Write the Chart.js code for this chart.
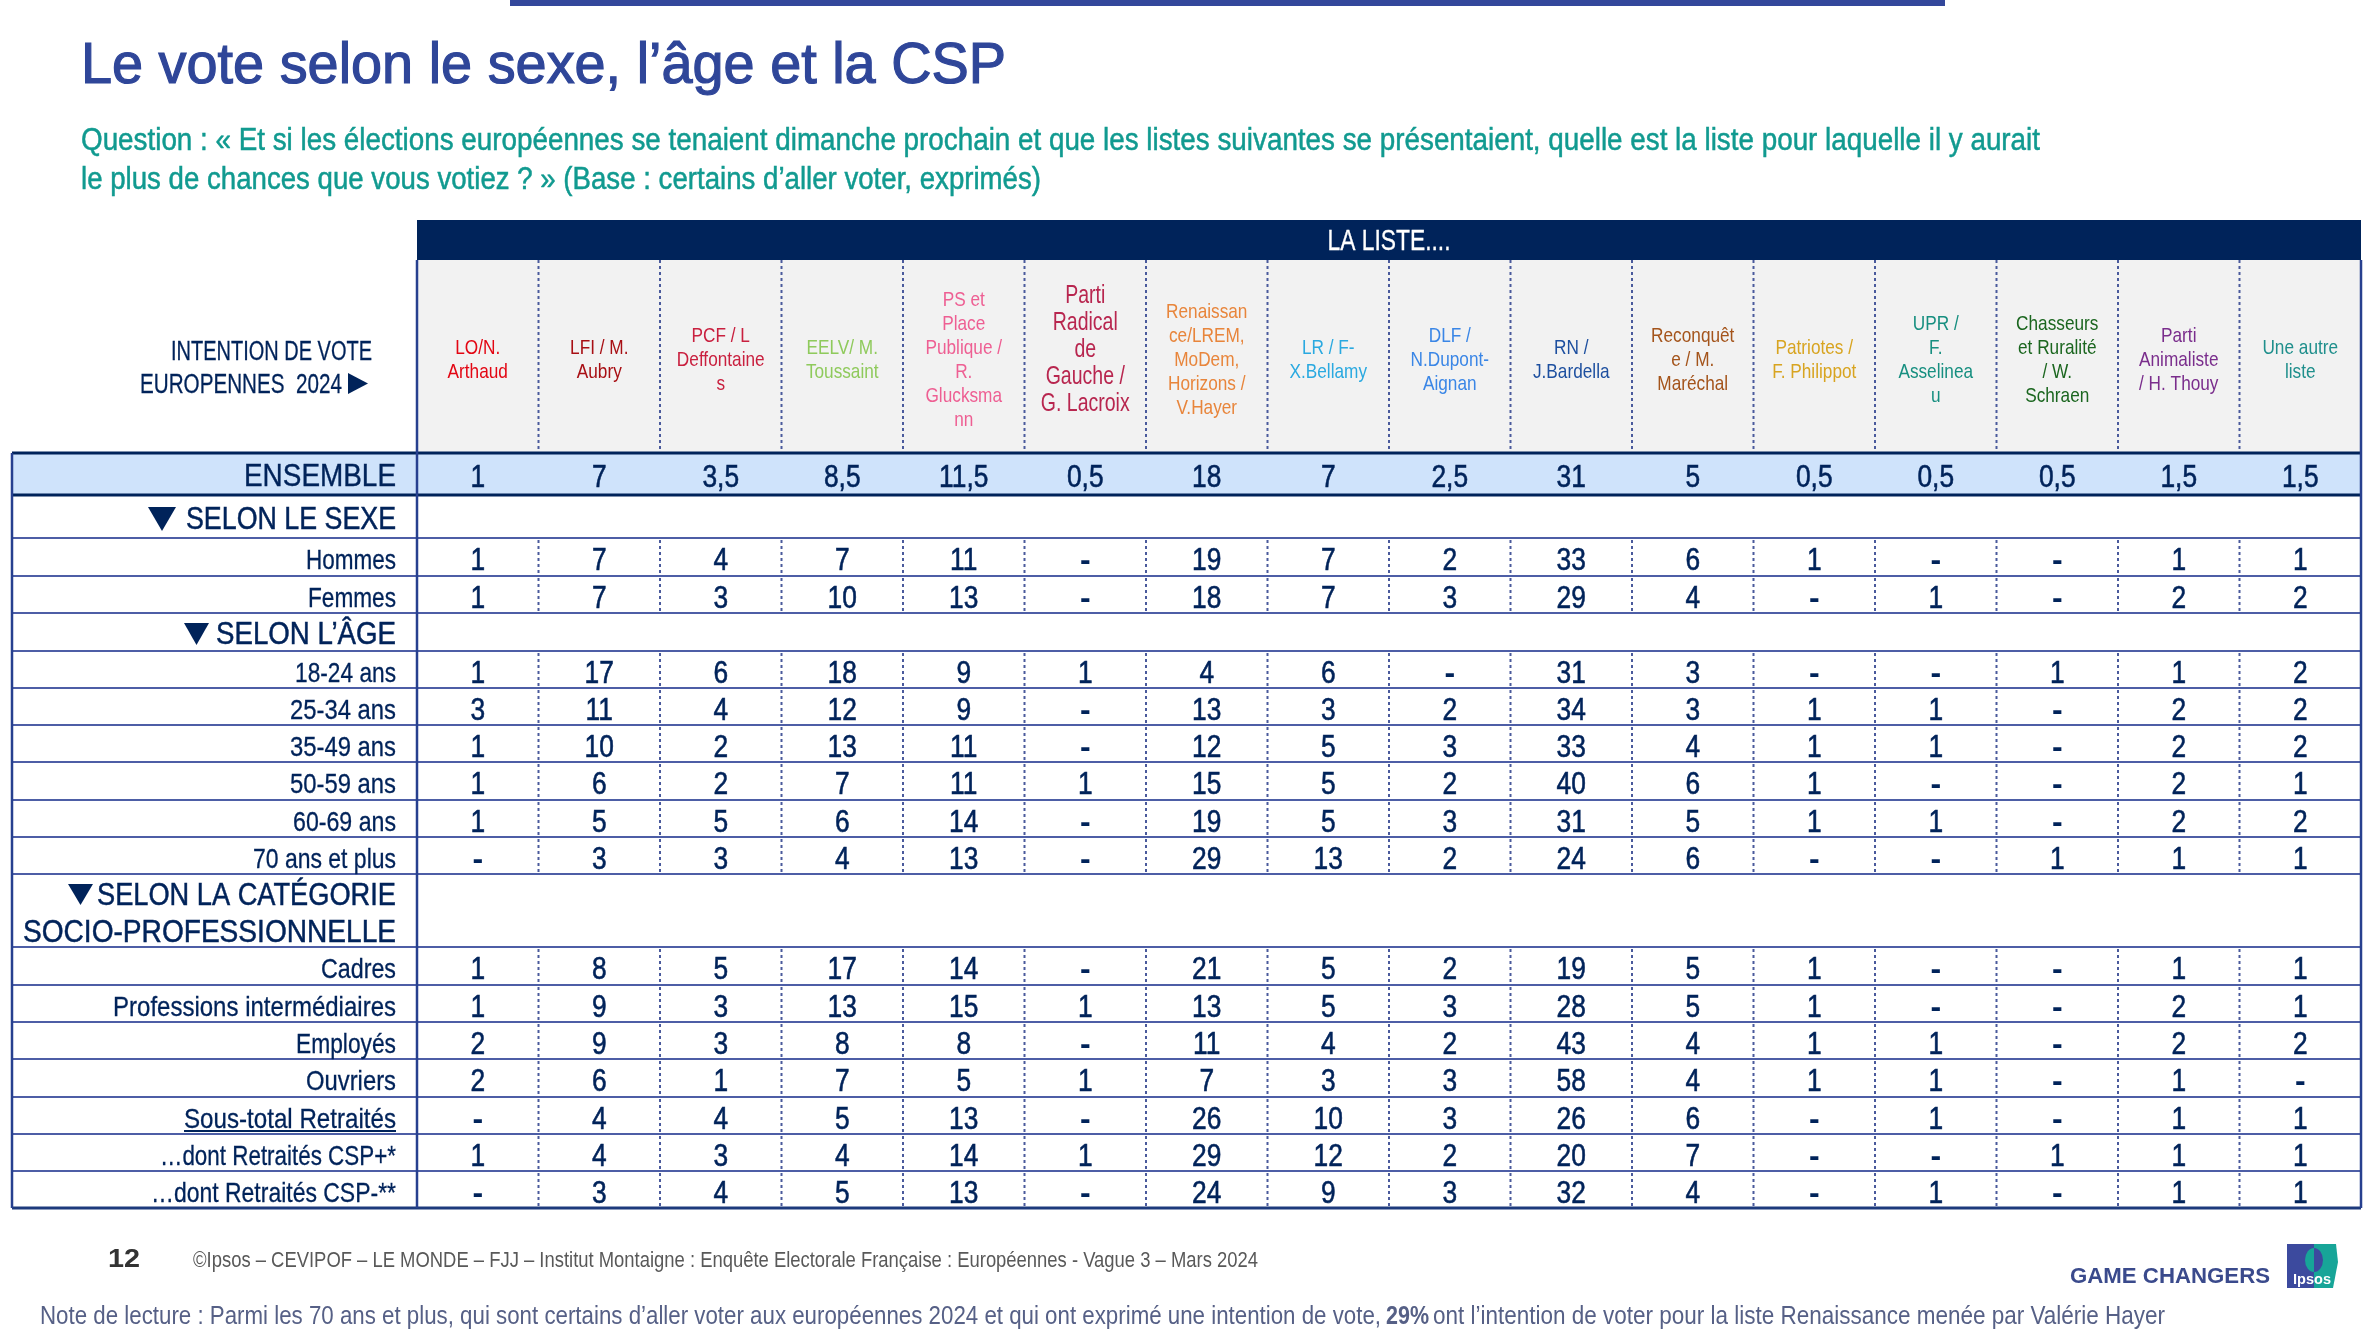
<!DOCTYPE html>
<html lang="fr">
<head>
<meta charset="utf-8">
<title>Le vote selon le sexe, l'âge et la CSP</title>
<script src="https://cdn.jsdelivr.net/npm/chart.js@4"></script>
<style>
  html, body { margin: 0; padding: 0; background: #fff; }
  canvas { display: block; }
</style>
</head>
<body>
<canvas id="voteTable" width="2380" height="1339"></canvas>
<script>
const lists = [
  ['LO/N.', 'Arthaud'],
  ['LFI / M.', 'Aubry'],
  ['PCF / L', 'Deffontaine', 's'],
  ['EELV/ M.', 'Toussaint'],
  ['PS et', 'Place', 'Publique /', 'R.', 'Glucksma', 'nn'],
  ['Parti', 'Radical', 'de', 'Gauche /', 'G. Lacroix'],
  ['Renaissan', 'ce/LREM,', 'MoDem,', 'Horizons /', 'V.Hayer'],
  ['LR / F-', 'X.Bellamy'],
  ['DLF /', 'N.Dupont-', 'Aignan'],
  ['RN /', 'J.Bardella'],
  ['Reconquêt', 'e / M.', 'Maréchal'],
  ['Patriotes /', 'F. Philippot'],
  ['UPR /', 'F.', 'Asselinea', 'u'],
  ['Chasseurs', 'et Ruralité', '/ W.', 'Schraen'],
  ['Parti', 'Animaliste', '/ H. Thouy'],
  ['Une autre', 'liste']
];
const listColors = ['#e30613', '#a80f14', '#c9203f', '#8fca5c', '#ee5f93', '#b8264f', '#e8853b', '#2aa9e0',
  '#3a86e6', '#1d4f9f', '#a4541b', '#d8a420', '#178f80', '#1b661f', '#7a2d8c', '#1f8f8c'];

// null is a "-" in the table
const ensemble = [1, 7, 3.5, 8.5, 11.5, 0.5, 18, 7, 2.5, 31, 5, 0.5, 0.5, 0.5, 1.5, 1.5];
const hommes = [1, 7, 4, 7, 11, null, 19, 7, 2, 33, 6, 1, null, null, 1, 1];
const femmes = [1, 7, 3, 10, 13, null, 18, 7, 3, 29, 4, null, 1, null, 2, 2];
const age18 = [1, 17, 6, 18, 9, 1, 4, 6, null, 31, 3, null, null, 1, 1, 2];
const age25 = [3, 11, 4, 12, 9, null, 13, 3, 2, 34, 3, 1, 1, null, 2, 2];
const age35 = [1, 10, 2, 13, 11, null, 12, 5, 3, 33, 4, 1, 1, null, 2, 2];
const age50 = [1, 6, 2, 7, 11, 1, 15, 5, 2, 40, 6, 1, null, null, 2, 1];
const age60 = [1, 5, 5, 6, 14, null, 19, 5, 3, 31, 5, 1, 1, null, 2, 2];
const age70 = [null, 3, 3, 4, 13, null, 29, 13, 2, 24, 6, null, null, 1, 1, 1];
const cadres = [1, 8, 5, 17, 14, null, 21, 5, 2, 19, 5, 1, null, null, 1, 1];
const intermediaires = [1, 9, 3, 13, 15, 1, 13, 5, 3, 28, 5, 1, null, null, 2, 1];
const employes = [2, 9, 3, 8, 8, null, 11, 4, 2, 43, 4, 1, 1, null, 2, 2];
const ouvriers = [2, 6, 1, 7, 5, 1, 7, 3, 3, 58, 4, 1, 1, null, 1, null];
const retraites = [null, 4, 4, 5, 13, null, 26, 10, 3, 26, 6, null, 1, null, 1, 1];
const retraitesPlus = [1, 4, 3, 4, 14, 1, 29, 12, 2, 20, 7, null, null, 1, 1, 1];
const retraitesMoins = [null, 3, 4, 5, 13, null, 24, 9, 3, 32, 4, null, 1, null, 1, 1];

// label, values (null = section row), height of the row in y scale units, width of the label
const rows = [
  ['ENSEMBLE', ensemble, 42, 152],
  ['SELON LE SEXE', null, 43],
  ['Hommes', hommes, 38, 90],
  ['Femmes', femmes, 37, 88],
  ['SELON L’ÂGE', null, 38],
  ['18-24 ans', age18, 37, 101],
  ['25-34 ans', age25, 37, 106],
  ['35-49 ans', age35, 37, 106],
  ['50-59 ans', age50, 38, 106],
  ['60-69 ans', age60, 37, 103],
  ['70 ans et plus', age70, 37, 143],
  ['SELON LA CATÉGORIE', null, 73],
  ['Cadres', cadres, 38, 75],
  ['Professions intermédiaires', intermediaires, 37, 283],
  ['Employés', employes, 37, 100],
  ['Ouvriers', ouvriers, 38, 90],
  ['Sous-total Retraités', retraites, 37, 212],
  ['…dont Retraités CSP+*', retraitesPlus, 37, 236],
  ['…dont Retraités CSP-**', retraitesMoins, 37, 245]
];

const SANS = '"Liberation Sans", sans-serif';
const NAVY = '#00235a';
const LINE = '#4d5ea6';

let top0 = 0;
const rowTops = rows.map(r => { const t = top0; top0 += r[2]; return t; });
const tableUnits = top0;

const datasets = rows.filter(r => r[1]).map(r => ({
  label: r[0],
  data: r[1].map((v, i) => ({ x: i + 0.5, y: rowTops[rows.indexOf(r)] + r[2] / 2, v: v })),
  pointRadius: 0,
  showLine: false
}));

// fillText with a horizontal squeeze: o.w = target width, o.sx = factor, o.heavy = thin outline
function put(ctx, str, x, y, font, color, align, o) {
  o = o || {};
  ctx.save();
  ctx.font = font;
  ctx.fillStyle = color;
  ctx.strokeStyle = color;
  ctx.textBaseline = 'alphabetic';
  ctx.textAlign = align || 'left';
  ctx.translate(x, y);
  const sx = o.w ? o.w / ctx.measureText(str).width : (o.sx || 1);
  ctx.scale(sx, 1);
  ctx.fillText(str, 0, 0);
  if (o.heavy) {
    ctx.lineWidth = o.heavy;
    ctx.strokeText(str, 0, 0);
  }
  ctx.restore();
}

function triangle(ctx, x1, y1, x2, y2, x3, y3) {
  ctx.fillStyle = NAVY;
  ctx.beginPath();
  ctx.moveTo(x1, y1);
  ctx.lineTo(x2, y2);
  ctx.lineTo(x3, y3);
  ctx.fill();
}

function hline(ctx, x1, x2, y, color, w) {
  ctx.strokeStyle = color;
  ctx.lineWidth = w;
  ctx.setLineDash([]);
  ctx.beginPath();
  ctx.moveTo(x1, y);
  ctx.lineTo(x2, y);
  ctx.stroke();
}

const tablePlugin = {
  id: 'tablePlugin',
  beforeDatasetsDraw(chart) {
    const ctx = chart.ctx;
    const xs = chart.scales.x, ys = chart.scales.y;
    const left = xs.getPixelForValue(0), right = xs.getPixelForValue(lists.length);
    const tableLeft = 12;
    const headTop = 220, greyTop = 260;
    const yTop = ys.getPixelForValue(0), yBottom = ys.getPixelForValue(tableUnits);

    ctx.fillStyle = '#33479b';
    ctx.fillRect(510, 0, 1435, 6);

    ctx.fillStyle = '#00235a';
    ctx.fillRect(left, headTop, right - left, greyTop - headTop);
    ctx.fillStyle = '#f2f2f2';
    ctx.fillRect(left, greyTop, right - left, yTop - greyTop);
    ctx.fillStyle = '#cfe3fb';
    ctx.fillRect(tableLeft, yTop, right - tableLeft, ys.getPixelForValue(rows[0][2]) - yTop);

    // row rules
    rows.forEach((r, i) => {
      if (i === 0) return;
      const y = ys.getPixelForValue(rowTops[i]);
      hline(ctx, tableLeft, right, y, i === 1 ? '#00235a' : LINE, i === 1 ? 3 : 2);
    });
    hline(ctx, tableLeft, right, yTop, '#00235a', 3);
    hline(ctx, tableLeft, right, yBottom, '#1d3a7c', 3);

    // dotted column rules, only on the header and on rows with values
    ctx.strokeStyle = '#4a5a9c';
    ctx.lineWidth = 2;
    ctx.setLineDash([3, 3]);
    for (let c = 1; c < lists.length; c++) {
      const x = xs.getPixelForValue(c);
      ctx.beginPath();
      ctx.moveTo(x, greyTop);
      ctx.lineTo(x, yTop - 2);
      rows.forEach((r, i) => {
        if (!r[1] || i === 0) return;
        ctx.moveTo(x, ys.getPixelForValue(rowTops[i]) + 2);
        ctx.lineTo(x, ys.getPixelForValue(rowTops[i] + r[2]) - 2);
      });
      ctx.stroke();
    }
    ctx.setLineDash([]);

    // outer rules
    ctx.strokeStyle = '#27408f';
    ctx.lineWidth = 2.5;
    ctx.beginPath();
    ctx.moveTo(left, greyTop);
    ctx.lineTo(left, yBottom);
    ctx.moveTo(right, greyTop);
    ctx.lineTo(right, yBottom);
    ctx.moveTo(tableLeft, yTop);
    ctx.lineTo(tableLeft, yBottom);
    ctx.stroke();
  },
  afterDatasetsDraw(chart) {
    const ctx = chart.ctx;
    const xs = chart.scales.x, ys = chart.scales.y;
    const labelRight = 396;

    // cell values
    chart.data.datasets.forEach((ds, d) => {
      chart.getDatasetMeta(d).data.forEach((pt, i) => {
        const v = ds.data[i].v;
        if (v === null) {
          put(ctx, '-', pt.x, pt.y + 13, 'bold 32px ' + SANS, NAVY, 'center');
        } else {
          put(ctx, String(v).replace('.', ','), pt.x, pt.y + 13, '31px ' + SANS, NAVY, 'center', { sx: 0.85, heavy: 0.6 });
        }
      });
    });

    // row labels
    rows.forEach((r, i) => {
      if (!r[1]) return;
      const y = ys.getPixelForValue(rowTops[i] + r[2] / 2);
      if (i === 0) {
        put(ctx, r[0], labelRight, y + 12, '32px ' + SANS, NAVY, 'right', { w: r[3], heavy: 0.4 });
      } else {
        put(ctx, r[0], labelRight, y + 12, '28px ' + SANS, NAVY, 'right', { w: r[3], heavy: 0.3 });
      }
    });
    put(ctx, 'SELON LE SEXE', labelRight, 529, '31px ' + SANS, NAVY, 'right', { w: 210, heavy: 0.5 });
    triangle(ctx, 148, 507, 176, 507, 162, 531);
    put(ctx, 'SELON L’ÂGE', labelRight, 644, '31px ' + SANS, NAVY, 'right', { w: 180, heavy: 0.5 });
    triangle(ctx, 184, 623, 209, 623, 196.5, 645);
    put(ctx, 'SELON LA CATÉGORIE', labelRight, 905, '31px ' + SANS, NAVY, 'right', { w: 299, heavy: 0.5 });
    triangle(ctx, 68, 884, 93, 884, 80.5, 905);
    put(ctx, 'SOCIO-PROFESSIONNELLE', labelRight, 942, '31px ' + SANS, NAVY, 'right', { w: 373, heavy: 0.5 });
    hline(ctx, 184, labelRight, 1131, NAVY, 2);

    // header
    put(ctx, 'LA LISTE....', xs.getPixelForValue(lists.length / 2), 250, '29px ' + SANS, '#ffffff', 'center', { w: 123, heavy: 0.3 });
    lists.forEach((lines, c) => {
      const big = c === 5;
      const lh = big ? 27 : 24;
      const size = big ? 25 : 21;
      const mid = big ? 348 : 358;
      const x = xs.getPixelForValue(c + 0.5);
      lines.forEach((line, n) => {
        const y = mid + (n - (lines.length - 1) / 2) * lh + size * 0.36;
        put(ctx, line, x, y, size + 'px ' + SANS, listColors[c], 'center', { sx: big ? 0.78 : 0.82 });
      });
    });
    put(ctx, 'INTENTION DE VOTE', 372, 360, '27px ' + SANS, NAVY, 'right', { w: 201, heavy: 0.3 });
    put(ctx, 'EUROPENNES  2024', 342, 393, '27px ' + SANS, NAVY, 'right', { w: 202, heavy: 0.3 });
    triangle(ctx, 348, 373, 348, 394, 368, 383.5);

    // page text
    put(ctx, 'Le vote selon le sexe, l’âge et la CSP', 81, 83, '57px ' + SANS, '#2f4699', 'left', { w: 925, heavy: 1.2 });
    put(ctx, 'Question : « Et si les élections européennes se tenaient dimanche prochain et que les listes suivantes se présentaient, quelle est la liste pour laquelle il y aurait',
      81, 150, '31px ' + SANS, '#119a90', 'left', { w: 1959, heavy: 0.5 });
    put(ctx, 'le plus de chances que vous votiez ? » (Base : certains d’aller voter, exprimés)',
      81, 189, '31px ' + SANS, '#119a90', 'left', { w: 960, heavy: 0.5 });
    put(ctx, '12', 108, 1267, 'bold 26px ' + SANS, '#333333', 'left', { w: 32 });
    put(ctx, '©Ipsos – CEVIPOF – LE MONDE – FJJ – Institut Montaigne : Enquête Electorale Française : Européennes - Vague 3 – Mars 2024',
      193, 1267, '22px ' + SANS, '#595959', 'left', { w: 1065 });
    put(ctx, 'Note de lecture : Parmi les 70 ans et plus, qui sont certains d’aller voter aux européennes 2024 et qui ont exprimé une intention de vote,',
      40, 1324, '26px ' + SANS, '#566086', 'left', { w: 1341 });
    put(ctx, '29%', 1386, 1324, 'bold 26px ' + SANS, '#566086', 'left', { w: 43 });
    put(ctx, 'ont l’intention de voter pour la liste Renaissance menée par Valérie Hayer',
      1433, 1324, '26px ' + SANS, '#566086', 'left', { w: 732 });
    put(ctx, 'GAME CHANGERS', 2070, 1283, 'bold 22px ' + SANS, '#3a4a8c', 'left', { w: 200 });

    // logo
    ctx.fillStyle = '#3c4a9e';
    ctx.fillRect(2287, 1244, 27, 44);
    ctx.fillStyle = '#17a598';
    ctx.beginPath();
    ctx.moveTo(2314, 1244);
    ctx.lineTo(2336, 1244);
    ctx.lineTo(2338, 1262);
    ctx.lineTo(2333, 1288);
    ctx.lineTo(2314, 1288);
    ctx.fill();
    ctx.beginPath();
    ctx.ellipse(2314, 1260, 9, 12, 0, Math.PI / 2, Math.PI * 1.5);
    ctx.fill();
    ctx.fillStyle = '#3c4a9e';
    ctx.beginPath();
    ctx.ellipse(2314, 1260, 9, 12, 0, -Math.PI / 2, Math.PI / 2);
    ctx.fill();
    put(ctx, 'Ipsos', 2293, 1284, 'bold 15px ' + SANS, '#ffffff', 'left', { w: 38 });
  }
};

new Chart(document.getElementById('voteTable'), {
  type: 'scatter',
  data: { datasets: datasets },
  options: {
    responsive: false,
    devicePixelRatio: 1,
    animation: false,
    events: [],
    layout: { padding: { left: 417, right: 19, top: 453, bottom: 131 } },
    plugins: {
      legend: { display: false },
      tooltip: { enabled: false }
    },
    scales: {
      x: { type: 'linear', min: 0, max: lists.length, display: false },
      y: { type: 'linear', min: 0, max: tableUnits, reverse: true, display: false }
    }
  },
  plugins: [tablePlugin]
});
</script>
</body>
</html>
